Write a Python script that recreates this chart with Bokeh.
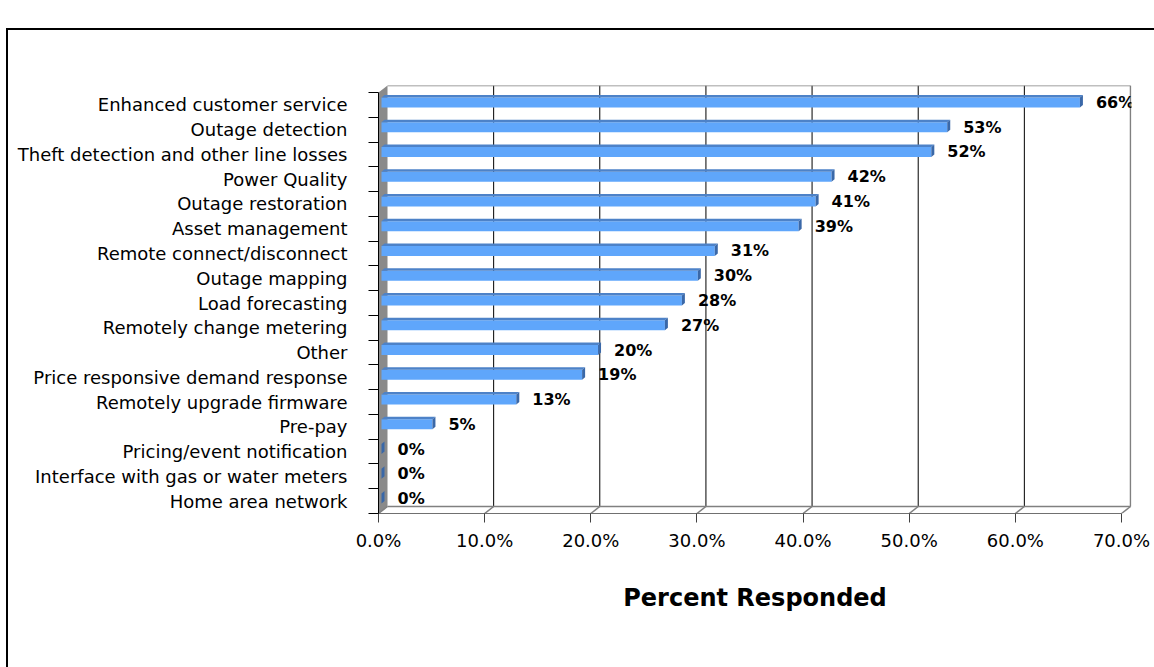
from bokeh.plotting import figure
from bokeh.models import FixedTicker, ColumnDataSource, Range1d, Div
from bokeh.layouts import column
from bokeh.embed import file_html
from bokeh.resources import INLINE
from bokeh.core.properties import value

# ---------------- data ----------------
categories = [
    "Enhanced customer service",
    "Outage detection",
    "Theft detection and other line losses",
    "Power Quality",
    "Outage restoration",
    "Asset management",
    "Remote connect/disconnect",
    "Outage mapping",
    "Load forecasting",
    "Remotely change metering",
    "Other",
    "Price responsive demand response",
    "Remotely upgrade firmware",
    "Pre-pay",
    "Pricing/event notification",
    "Interface with gas or water meters",
    "Home area network",
]
percent = [65.8, 53.3, 51.8, 42.4, 40.9, 39.3, 31.4, 29.8, 28.3, 26.7,
           20.4, 18.9, 12.7, 4.8, 0.0, 0.0, 0.0]
x_ticks = [0, 10, 20, 30, 40, 50, 60, 70]
x_tick_labels = ["0.0%", "10.0%", "20.0%", "30.0%", "40.0%", "50.0%", "60.0%", "70.0%"]
x_axis_title = "Percent Responded"

# ---------------- geometry (pixel-based styling constants) ----------------
W, H = 1154, 667
FRAME_L, FRAME_R, FRAME_T, FRAME_B = 378, 1131, 85, 513
X_MAX = x_ticks[-1]
PXX = (1121 - FRAME_L) / X_MAX          # px per percent
n = len(categories)
PXY = (FRAME_B - 92) / n                 # px per row
DX, DY = 9 / PXX, 7 / PXY               # depth of the 3-D box
AX, AY = 3 / PXX, 2.5 / PXY             # bar placement inside depth
HH = 5 / PXY                            # half height of bar front face
BX, BY = 3 / PXX, 2.5 / PXY             # bar depth

y_lo, y_hi = -0.5, n - 0.5
x_end = (FRAME_R - FRAME_L) / PXX
y_end = y_lo + (FRAME_B - FRAME_T) / PXY

p = figure(width=W, height=H, output_backend="svg", toolbar_location=None,
           x_range=Range1d(0, x_end), y_range=Range1d(y_lo, y_end),
           min_border_left=FRAME_L, min_border_right=W - FRAME_R,
           min_border_top=FRAME_T, min_border_bottom=H - FRAME_B)
p.outline_line_color = None
p.background_fill_color = "white"
p.border_fill_color = "white"
p.xgrid.visible = False
p.ygrid.visible = False

ys = [n - 1 - i for i in range(n)]

# left wall
p.patch([0, DX, DX, 0], [y_lo, y_lo + DY, y_hi + DY, y_hi],
        fill_color="#8a8a8a", line_color=None)

# back wall grid lines
for t in x_ticks[1:-1]:
    p.line([t + DX, t + DX], [y_lo + DY, y_hi + DY], line_color="#000000", line_width=1)
# back wall outline
p.line([DX, X_MAX + DX], [y_hi + DY, y_hi + DY], line_color="#808080", line_width=1.5)
p.line([X_MAX + DX, X_MAX + DX], [y_lo + DY, y_hi + DY], line_color="#808080", line_width=1.5)
# floor
p.line([DX, X_MAX + DX], [y_lo + DY, y_lo + DY], line_color="#808080", line_width=1.5)
for t in x_ticks:
    p.line([t, t + DX], [y_lo, y_lo + DY], line_color="#808080", line_width=1.5)

# bars
src = ColumnDataSource(dict(
    y=ys, v=percent,
    left=[AX] * n, right=[v + AX for v in percent],
    bottom=[y + AY - HH for y in ys], top=[y + AY + HH for y in ys],
    lab=[f"{round(v)}%" for v in percent],
    ly=[y + AY for y in ys],
))
p.quad(left="left", right="right", bottom="bottom", top="top", source=src,
       fill_color="#5fa6fb", line_color=None)

top_xs, top_ys, cap_xs, cap_ys = [], [], [], []
for v, y in zip(percent, ys):
    t = y + AY + HH
    b = y + AY - HH
    top_xs.append([AX, v + AX, v + AX + BX, AX + BX])
    top_ys.append([t, t, t + BY, t + BY])
    cap_xs.append([v + AX, v + AX, v + AX + BX, v + AX + BX])
    cap_ys.append([b, t, t + BY, b + BY])
p.patches(top_xs, top_ys, fill_color="#4d82c8", line_color=None)
p.patches(cap_xs, cap_ys, fill_color="#3a68a8", line_color=None)

# data labels
p.text(x="right", y="ly", text="lab", source=src, x_offset=16,
       text_align="left", text_baseline="middle",
       text_font=value("DejaVu Sans"), text_font_size="16px",
       text_font_style="bold", text_color="#000000")

# y axis
ya = p.yaxis[0]
ya.ticker = FixedTicker(ticks=ys, minor_ticks=[k - 0.5 for k in range(n + 1)])
ya.major_label_overrides = {y: c for y, c in zip(ys, categories)}
ya.bounds = (y_lo, y_hi)
ya.major_tick_in = 0
ya.major_tick_out = 0
ya.minor_tick_in = 0
ya.minor_tick_out = 10
ya.minor_tick_line_color = "#000000"
ya.axis_line_color = "#000000"
ya.major_label_standoff = 21
ya.major_label_text_font = "DejaVu Sans"
ya.major_label_text_font_size = "18px"
ya.major_label_text_color = "#000000"

# x axis
xa = p.xaxis[0]
xa.ticker = FixedTicker(ticks=x_ticks, minor_ticks=[])
xa.major_label_overrides = {t: s for t, s in zip(x_ticks, x_tick_labels)}
xa.bounds = (0, X_MAX)
xa.major_tick_in = 0
xa.major_tick_out = 9
xa.major_tick_line_color = "#404040"
xa.axis_line_color = "#707070"
xa.major_label_standoff = 7
xa.major_label_text_font = "DejaVu Sans"
xa.major_label_text_font_size = "18px"
xa.major_label_text_color = "#000000"
xa.axis_label = x_axis_title
xa.axis_label_text_font = "DejaVu Sans"
xa.axis_label_text_font_size = "24px"
xa.axis_label_text_font_style = "bold"
xa.axis_label_text_color = "#000000"
xa.axis_label_standoff = 30

frame_box = Div(
    text='<div style="position:fixed;left:6px;top:28px;width:1148px;height:639px;'
         'border-left:2px solid #000;border-top:2px solid #000;'
         'pointer-events:none;z-index:10;"></div>',
    width=0, height=0)

layout = column(p, frame_box)
open("out.html", "w").write(file_html(layout, INLINE))
